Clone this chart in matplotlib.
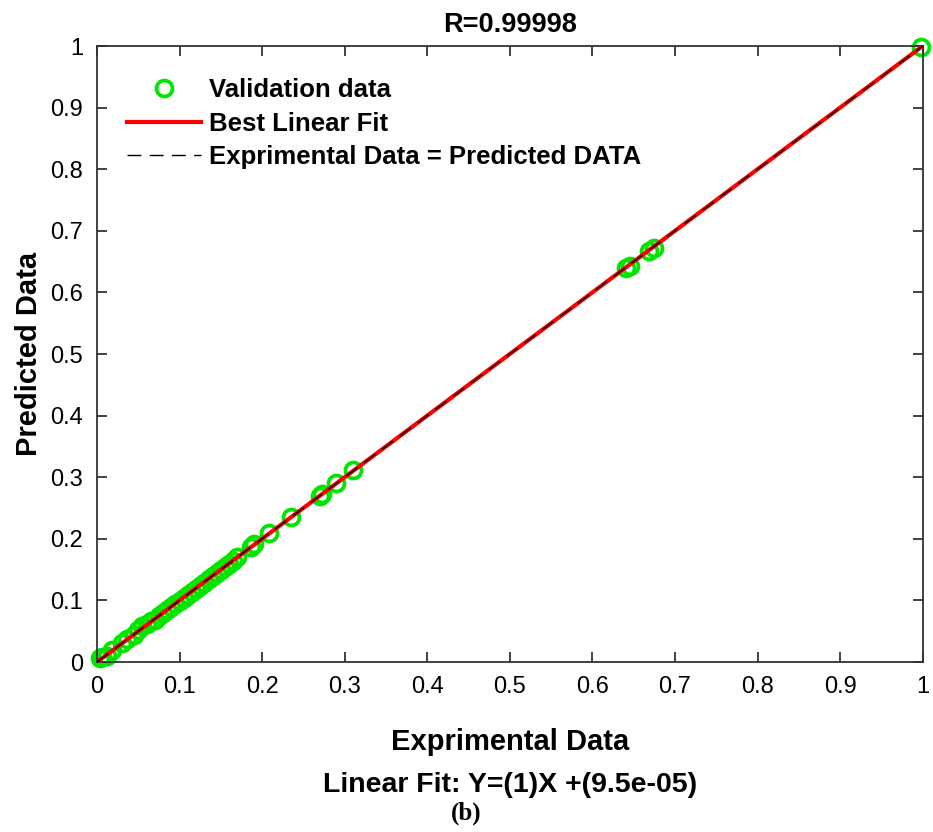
import matplotlib
matplotlib.use("Agg")
import matplotlib.pyplot as plt
import numpy as np

plt.rcParams['font.family'] = ['Liberation Sans', 'DejaVu Sans']

experimental = [0.003, 0.006, 0.012, 0.018, 0.03, 0.036, 0.045, 0.05, 0.055, 0.06,
                0.065, 0.07, 0.075, 0.08, 0.085, 0.09, 0.095, 0.10, 0.105, 0.11,
                0.115, 0.12, 0.125, 0.13, 0.135, 0.14, 0.145, 0.15, 0.155, 0.16,
                0.165, 0.17, 0.186, 0.19, 0.208, 0.235, 0.27, 0.273, 0.29, 0.31,
                0.641, 0.645, 0.669, 0.674, 0.998]
predicted = [0.006, 0.008, 0.010, 0.020, 0.031, 0.037, 0.044, 0.052, 0.058, 0.062,
             0.066, 0.069, 0.074, 0.079, 0.084, 0.089, 0.094, 0.099, 0.104, 0.109,
             0.114, 0.119, 0.124, 0.129, 0.134, 0.139, 0.144, 0.149, 0.154, 0.159,
             0.164, 0.171, 0.187, 0.191, 0.209, 0.236, 0.269, 0.272, 0.291, 0.311,
             0.639, 0.643, 0.668, 0.672, 0.998]
fit_slope = 1.0
fit_intercept = 9.5e-05
ticks = [0, 0.1, 0.2, 0.3, 0.4, 0.5, 0.6, 0.7, 0.8, 0.9, 1]
tick_labels = ['0', '0.1', '0.2', '0.3', '0.4', '0.5', '0.6', '0.7', '0.8', '0.9', '1']

fig = plt.figure(figsize=(9.33, 8.32), dpi=100)
ax = fig.add_axes([0.104, 0.2043, 0.885, 0.7404])

xx = np.array([0.0, 1.0])
ax.plot(experimental, predicted, 'o', mfc='none', mec='#00e600', mew=2.7, ms=11.5,
        label='Validation data', zorder=2, clip_on=False)
ax.plot(xx, fit_slope * xx + fit_intercept, color='#ff0000', lw=3, label='Best Linear Fit', zorder=3)
ax.plot(xx, xx, color='black', lw=1.0, ls=(0, (10, 6)), label='Exprimental Data = Predicted DATA', zorder=4)

ax.set_xlim(0, 1)
ax.set_ylim(0, 1)
ax.set_xticks(ticks)
ax.set_xticklabels(tick_labels)
ax.set_yticks(ticks)
ax.set_yticklabels(tick_labels)
ax.tick_params(direction='in', length=7, width=1.2, top=True, right=True,
               labelsize=17, pad=10, colors='#222222', labelcolor='black')
for s in ax.spines.values():
    s.set_linewidth(1.3)
    s.set_color('#333333')

ax.set_title('R=0.99998', fontsize=19.5, fontweight='bold', pad=10)
ax.set_ylabel('Predicted Data', fontsize=21, fontweight='bold', labelpad=5)

xc = 0.104 + 0.885 / 2
fig.text(xc, 1 - 742 / 832, 'Exprimental Data', ha='center', va='center',
         fontsize=21, fontweight='bold')
fig.text(xc, 1 - 785 / 832, 'Linear Fit: Y=(1)X +(9.5e-05)', ha='center', va='center',
         fontsize=20.5, fontweight='bold')

leg = ax.legend(loc='upper left', bbox_to_anchor=(0.008, 0.985), frameon=False,
                prop={'weight': 'bold', 'size': 18.5}, handlelength=2.9,
                handletextpad=0.3, labelspacing=0.37)

fig.text(0.5, 1 - 813 / 832, '(b)', ha='center', va='center', fontsize=18,
         fontweight='bold', family=['Liberation Serif', 'DejaVu Serif'])

fig.savefig('out.png', dpi=100)
